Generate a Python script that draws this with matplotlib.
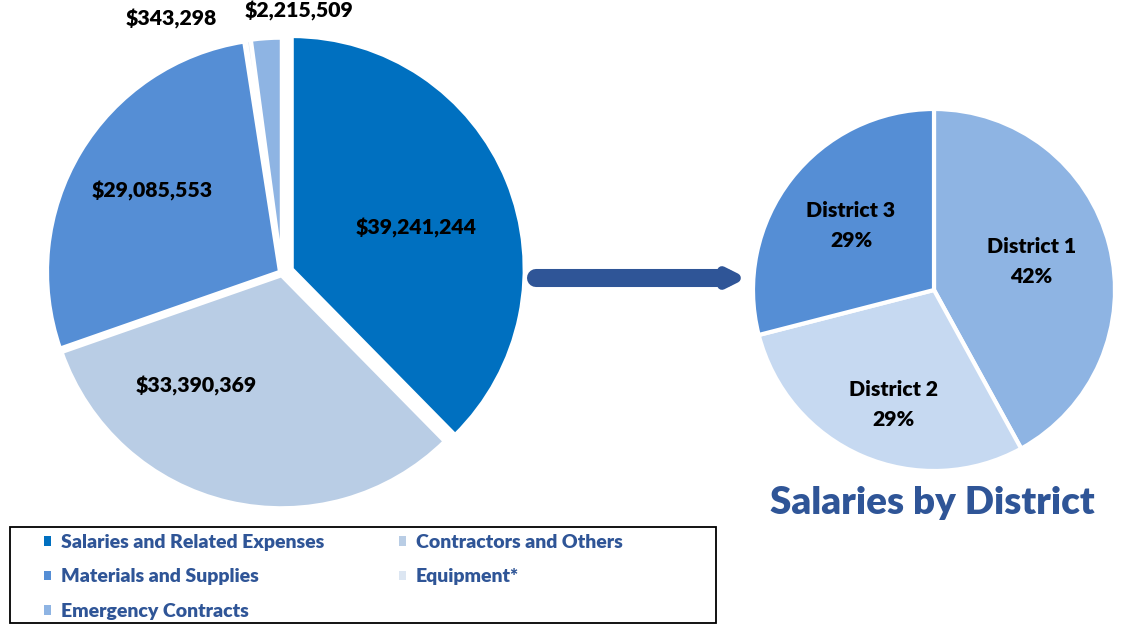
import matplotlib
matplotlib.use("Agg")
import matplotlib.pyplot as plt
from matplotlib.patches import Rectangle
from matplotlib.markers import MarkerStyle
import numpy as np

plt.rcParams['font.family'] = ['Lato', 'DejaVu Sans']

# data
categories = ["Salaries and Related Expenses", "Contractors and Others",
              "Materials and Supplies", "Equipment*", "Emergency Contracts"]
amounts = [39241244, 33390369, 29085553, 343298, 2215509]
cat_colors = ["#0070C0", "#B9CDE5", "#558ED5", "#DCE6F2", "#8EB4E3"]

districts = ["District 1", "District 2", "District 3"]
district_share = [42, 29, 29]
district_colors = ["#8EB4E3", "#C6D9F1", "#558ED5"]

title_color = "#2F5597"
W, H = 1125, 626

fig = plt.figure(figsize=(11.25, 6.26), dpi=100)

# ---- left pie
r_px = 233
cx, cy = 282, 273
half = 1.2 * r_px
axl = fig.add_axes([(cx - half) / W, (H - cy - half) / H, 2 * half / W, 2 * half / H])
wedges, _ = axl.pie(amounts, colors=cat_colors, startangle=90, counterclock=False,
                    explode=[0.045, 0.01, 0.01, 0.01, 0.01],
                    wedgeprops=dict(edgecolor="white", linewidth=3))
axl.set_xlim(-1.2, 1.2)
axl.set_ylim(-1.2, 1.2)
axl.set_aspect("equal")
axl.axis("off")

# label radius and angle nudge (deg) per slice
lab_r = [0.56, 0.6, 0.65, 1.18, 1.115]
lab_da = [-4, -24.7, -1.5, 15.5, -7.5]
for w, val, r, da in zip(wedges, amounts, lab_r, lab_da):
    ang = np.deg2rad((w.theta1 + w.theta2) / 2 + da)
    x = w.center[0] + r * np.cos(ang)
    y = w.center[1] + r * np.sin(ang)
    axl.text(x, y, f"${val:,}", ha="center", va="center", fontsize=15.3,
             fontweight="heavy", color="black")

# ---- right pie
r2 = 181
cx2, cy2 = 934, 290
half2 = 1.05 * r2
axr = fig.add_axes([(cx2 - half2) / W, (H - cy2 - half2) / H, 2 * half2 / W, 2 * half2 / H])
wedges2, _ = axr.pie(district_share, colors=district_colors, startangle=90, counterclock=False,
                     wedgeprops=dict(edgecolor="white", linewidth=3))
axr.set_xlim(-1.05, 1.05)
axr.set_ylim(-1.05, 1.05)
axr.set_aspect("equal")
axr.axis("off")
d_r = [0.56, 0.67, 0.58]
d_da = [2, 4, 0]
for w, name, p, r, da in zip(wedges2, districts, district_share, d_r, d_da):
    ang = np.deg2rad((w.theta1 + w.theta2) / 2 + da)
    axr.text(r * np.cos(ang), r * np.sin(ang), f"{name}\n{p}%", ha="center",
             va="center", fontsize=15.3, fontweight="heavy", color="black", linespacing=1.7)

fig.text(932 / W, 1 - 503 / H, "Salaries by District", ha="center", va="center",
         fontsize=27.7, fontweight="heavy", color=title_color)

# ---- arrow
ay = 1 - 278 / H
fig.add_artist(plt.Line2D([536 / W, 726 / W], [ay, ay], color=title_color, lw=13,
                          solid_capstyle="round"))
fig.add_artist(plt.Line2D([729 / W], [ay], marker=MarkerStyle(">", joinstyle="round"),
                          markersize=10, color=title_color, markeredgewidth=7,
                          markeredgecolor=title_color, linestyle="none"))

# ---- legend (column-major fill -> reorder for row-wise look)
fig.add_artist(Rectangle((10 / W, 3 / H), 706 / W, 96 / H, transform=fig.transFigure,
                         fill=False, edgecolor="black", linewidth=1.3))
order = [0, 2, 4, 1, 3]
leg = fig.legend([wedges[i] for i in order], [categories[i] for i in order], ncol=2,
                 loc="upper left", bbox_to_anchor=(40 / W, 1 - 530 / H),
                 frameon=False, handlelength=0.37, handleheight=0.37, handletextpad=0.5,
                 labelspacing=0.9, borderpad=0.2, borderaxespad=0,
                 columnspacing=3.85, prop=dict(weight="heavy", size=14))
for t in leg.get_texts():
    t.set_color(title_color)
for h in leg.legend_handles:
    h.set_edgecolor("none")

fig.savefig("out.png", dpi=100)
